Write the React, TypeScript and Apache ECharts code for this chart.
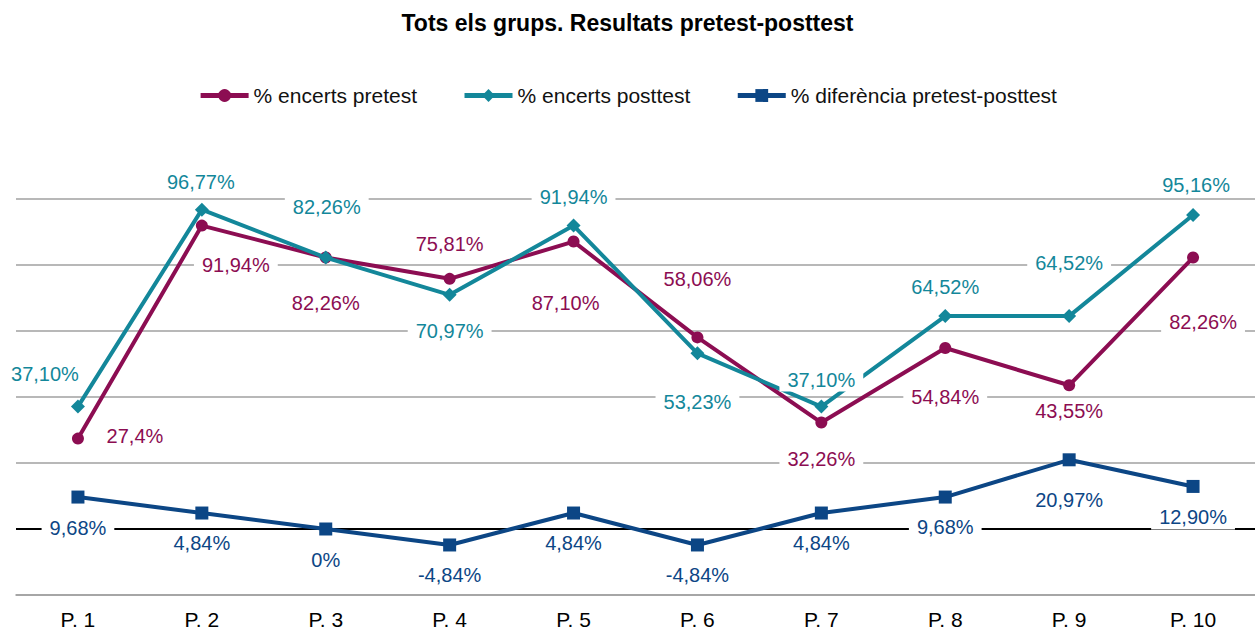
import React, { useEffect, useRef } from "react";
import * as echarts from "echarts";

const categories = ["P. 1", "P. 2", "P. 3", "P. 4", "P. 5", "P. 6", "P. 7", "P. 8", "P. 9", "P. 10"];
const pretest = [27.4, 91.94, 82.26, 75.81, 87.1, 58.06, 32.26, 54.84, 43.55, 82.26];
const posttest = [37.1, 96.77, 82.26, 70.97, 91.94, 53.23, 37.1, 64.52, 64.52, 95.16];
const difference = [9.68, 4.84, 0, -4.84, 4.84, -4.84, 4.84, 9.68, 20.97, 12.9];
const pretestDecimals = [1, 2, 2, 2, 2, 2, 2, 2, 2, 2];

// label offsets (pixels) relative to each point
const preOffsets = [[57, -3], [34, 39], [0, 45], [0, -35], [-8, 61], [0, -58], [0, 36], [0, 49], [0, 26], [10, 64]];
const postOffsets = [[-33, -33], [-1, -28], [1, -51], [0, 36], [0, -29], [0, 49], [0, -27], [0, -29], [0, -53], [3, -30]];
const diffOffsets = [[0, 31], [0, 30], [0, 31], [0, 30], [0, 30], [0, 30], [0, 30], [0, 30], [0, 40], [0, 31]];

const C_PRE = "#8c0d52";
const C_POST = "#13879a";
const C_DIFF = "#0c4685";
const FONT = "'Liberation Sans', Arial, Helvetica, sans-serif";

function fmt(v: number, d: number): string {
  if (v === 0) return "0%";
  return v.toFixed(d).replace(".", ",") + "%";
}

function buildData(values: number[], offsets: number[][], color: string, decimals?: number[]) {
  return values.map((v, i) => ({
    value: v,
    label: {
      show: true,
      position: "inside",
      offset: offsets[i],
      formatter: fmt(v, decimals ? decimals[i] : 2),
      color,
      fontSize: 20,
      fontFamily: FONT,
      backgroundColor: "#ffffff",
      padding: [2, 8],
    },
  }));
}

export default function App() {
  const ref = useRef<HTMLDivElement>(null);
  useEffect(() => {
    if (!ref.current) return;
    const chart = echarts.init(ref.current, undefined, { renderer: "svg" });
    chart.setOption({
      animation: false,
      backgroundColor: "#ffffff",
      title: {
        text: "Tots els grups. Resultats pretest-posttest",
        left: "center",
        top: 6,
        textStyle: { fontSize: 23, fontWeight: "bold", color: "#000", fontFamily: FONT },
      },
      legend: {
        top: 80,
        left: "center",
        itemWidth: 48,
        itemHeight: 16,
        itemGap: 45,
        lineStyle: { width: 5 },
        textStyle: { fontSize: 21, color: "#111", fontFamily: FONT },
        data: ["% encerts pretest", "% encerts posttest", "% diferència pretest-posttest"],
      },
      grid: { left: 16, right: -4, top: 199, bottom: 38, containLabel: false },
      xAxis: {
        type: "category",
        data: categories,
        boundaryGap: true,
        axisLine: { show: true, onZero: false, lineStyle: { color: "#a0a0a0", width: 1.6 } },
        axisTick: { show: false },
        axisLabel: { color: "#000", fontSize: 21, fontFamily: FONT, margin: 14 },
      },
      yAxis: {
        type: "value",
        min: -20,
        max: 100,
        interval: 20,
        axisLabel: { show: false },
        axisLine: { show: false },
        axisTick: { show: false },
        splitLine: { show: true, lineStyle: { color: "#a0a0a0", width: 1.6 } },
      },
      series: [
        {
          name: "% encerts pretest",
          type: "line",
          data: buildData(pretest, preOffsets, C_PRE, pretestDecimals),
          symbol: "circle",
          symbolSize: 12,
          lineStyle: { color: C_PRE, width: 4 },
          itemStyle: { color: C_PRE },
          z: 3,
        },
        {
          name: "% encerts posttest",
          type: "line",
          data: buildData(posttest, postOffsets, C_POST),
          symbol: "diamond",
          symbolSize: 14,
          lineStyle: { color: C_POST, width: 4 },
          itemStyle: { color: C_POST },
          z: 4,
        },
        {
          name: "% diferència pretest-posttest",
          type: "line",
          data: buildData(difference, diffOffsets, C_DIFF),
          symbol: "rect",
          symbolSize: 13,
          lineStyle: { color: C_DIFF, width: 4 },
          itemStyle: { color: C_DIFF },
          z: 3,
          markLine: {
            silent: true,
            symbol: "none",
            label: { show: false },
            lineStyle: { color: "#000000", width: 2, type: "solid" },
            data: [{ yAxis: 0 }],
            z: 1,
          },
        },
      ],
    });
    return () => chart.dispose();
  }, []);
  return <div ref={ref} style={{ width: 1255, height: 633, position: "absolute", left: 0, top: 0 }} />;
}
